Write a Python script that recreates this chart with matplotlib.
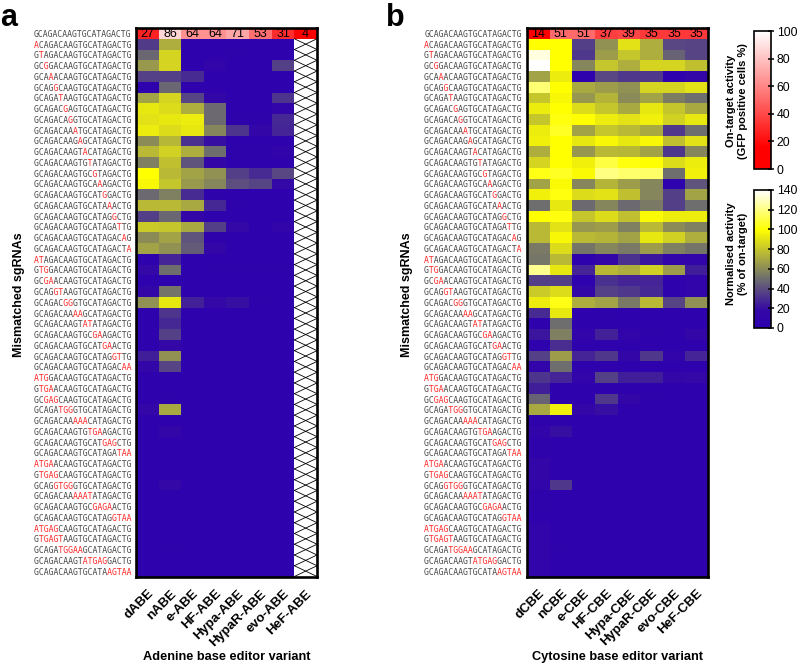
import numpy as np
import matplotlib
matplotlib.use("Agg")
import matplotlib.pyplot as plt
from matplotlib.colors import LinearSegmentedColormap, Normalize

# sgRNA sequences, first one is the on-target
reference = "GCAGACAAGTGCATAGACTG"
sgrnas = [
    "GCAGACAAGTGCATAGACTG", "ACAGACAAGTGCATAGACTG", "GTAGACAAGTGCATAGACTG", "GCGGACAAGTGCATAGACTG",
    "GCAAACAAGTGCATAGACTG", "GCAGGCAAGTGCATAGACTG", "GCAGATAAGTGCATAGACTG", "GCAGACGAGTGCATAGACTG",
    "GCAGACAGGTGCATAGACTG", "GCAGACAAATGCATAGACTG", "GCAGACAAGAGCATAGACTG", "GCAGACAAGTACATAGACTG",
    "GCAGACAAGTGTATAGACTG", "GCAGACAAGTGCGTAGACTG", "GCAGACAAGTGCAAAGACTG", "GCAGACAAGTGCATGGACTG",
    "GCAGACAAGTGCATAAACTG", "GCAGACAAGTGCATAGGCTG", "GCAGACAAGTGCATAGATTG", "GCAGACAAGTGCATAGACAG",
    "GCAGACAAGTGCATAGACTA", "ATAGACAAGTGCATAGACTG", "GTGGACAAGTGCATAGACTG", "GCGAACAAGTGCATAGACTG",
    "GCAGGTAAGTGCATAGACTG", "GCAGACGGGTGCATAGACTG", "GCAGACAAAAGCATAGACTG", "GCAGACAAGTATATAGACTG",
    "GCAGACAAGTGCGAAGACTG", "GCAGACAAGTGCATGAACTG", "GCAGACAAGTGCATAGGTTG", "GCAGACAAGTGCATAGACAA",
    "ATGGACAAGTGCATAGACTG", "GTGAACAAGTGCATAGACTG", "GCGAGCAAGTGCATAGACTG", "GCAGATGGGTGCATAGACTG",
    "GCAGACAAAAACATAGACTG", "GCAGACAAGTGTGAAGACTG", "GCAGACAAGTGCATGAGCTG", "GCAGACAAGTGCATAGATAA",
    "ATGAACAAGTGCATAGACTG", "GTGAGCAAGTGCATAGACTG", "GCAGGTGGGTGCATAGACTG", "GCAGACAAAAATATAGACTG",
    "GCAGACAAGTGCGAGAACTG", "GCAGACAAGTGCATAGGTAA", "ATGAGCAAGTGCATAGACTG", "GTGAGTAAGTGCATAGACTG",
    "GCAGATGGAAGCATAGACTG", "GCAGACAAGTATGAGGACTG", "GCAGACAAGTGCATAAGTAA",
]

abe_names = ["dABE", "nABE", "e-ABE", "HF-ABE", "Hypa-ABE", "HypaR-ABE", "evo-ABE", "HeF-ABE"]
cbe_names = ["dCBE", "nCBE", "e-CBE", "HF-CBE", "Hypa-CBE", "HypaR-CBE", "evo-CBE", "HeF-CBE"]
abe_on_target = [27, 86, 64, 64, 71, 53, 31, 4]
cbe_on_target = [14, 51, 51, 37, 39, 35, 35, 35]

# normalised activity, one row per mismatched sgRNA, HeF-ABE has no data
nan = np.nan
abe_activity = [
    [34, 72, 5, 5, 5, 5, 5, nan], [48, 85, 5, 5, 8, 5, 5, nan], [65, 85, 5, 12, 5, 5, 36, nan],
    [36, 35, 29, 5, 5, 5, 5, nan], [5, 48, 5, 5, 5, 5, 5, nan], [68, 85, 37, 15, 5, 5, 32, nan],
    [92, 88, 72, 49, 5, 5, 12, nan], [90, 92, 93, 49, 8, 8, 28, nan], [93, 88, 92, 58, 32, 15, 27, nan],
    [60, 75, 31, 20, 5, 5, 5, nan], [76, 84, 72, 50, 8, 8, 12, nan], [56, 78, 42, 15, 5, 5, 5, nan],
    [100, 76, 68, 62, 35, 29, 38, nan], [97, 80, 65, 58, 40, 37, 17, nan], [49, 56, 29, 8, 5, 5, 5, nan],
    [76, 76, 70, 28, 8, 5, 5, nan], [35, 48, 15, 5, 5, 5, 5, nan], [82, 80, 70, 35, 17, 5, 12, nan],
    [60, 68, 42, 8, 5, 5, 5, nan], [68, 62, 44, 15, 5, 5, 5, nan], [5, 27, 5, 5, 5, 5, 5, nan],
    [17, 50, 5, 8, 8, 8, 8, nan], [5, 5, 5, 5, 5, 5, 5, nan], [15, 52, 5, 5, 5, 5, 5, nan],
    [62, 92, 26, 17, 20, 8, 5, nan], [5, 32, 5, 5, 5, 5, 5, nan], [5, 28, 5, 5, 5, 5, 5, nan],
    [5, 36, 5, 5, 5, 5, 5, nan], [5, 17, 5, 5, 5, 5, 5, nan], [25, 62, 5, 5, 5, 5, 5, nan],
    [15, 37, 5, 5, 5, 5, 5, nan], [5, 5, 5, 5, 5, 5, 5, nan], [5, 5, 5, 5, 5, 5, 5, nan],
    [5, 8, 5, 5, 5, 5, 5, nan], [15, 70, 5, 5, 5, 5, 5, nan], [5, 5, 5, 5, 5, 5, 5, nan],
    [5, 15, 5, 5, 5, 5, 5, nan], [5, 5, 5, 5, 5, 5, 5, nan], [5, 5, 5, 5, 5, 5, 5, nan],
    [5, 5, 5, 5, 5, 5, 5, nan], [5, 5, 5, 5, 5, 5, 5, nan], [5, 17, 5, 5, 5, 5, 5, nan],
    [5, 5, 5, 5, 5, 5, 5, nan], [5, 5, 5, 5, 5, 5, 5, nan], [5, 5, 5, 5, 5, 5, 5, nan],
    [5, 5, 5, 5, 5, 5, 5, nan], [5, 5, 5, 5, 5, 5, 5, nan], [5, 8, 5, 5, 5, 5, 5, nan],
    [5, 5, 5, 5, 5, 5, 5, nan], [5, 5, 5, 5, 5, 5, 5, nan],
]
cbe_activity = [
    [100, 100, 35, 62, 90, 72, 38, 37], [135, 100, 33, 66, 80, 72, 47, 37], [140, 100, 58, 80, 72, 85, 85, 78],
    [68, 93, 5, 38, 33, 33, 5, 15], [118, 100, 70, 66, 62, 85, 85, 90], [80, 97, 64, 74, 60, 68, 55, 50],
    [93, 100, 88, 80, 70, 92, 80, 70], [80, 102, 100, 93, 90, 95, 84, 92], [94, 105, 68, 80, 76, 70, 33, 50],
    [95, 100, 92, 97, 92, 97, 78, 90], [72, 100, 64, 76, 75, 68, 32, 58], [85, 100, 95, 110, 102, 100, 88, 94],
    [103, 105, 98, 120, 117, 116, 50, 95], [68, 98, 58, 74, 66, 58, 5, 42], [95, 102, 88, 90, 78, 58, 35, 68],
    [50, 92, 49, 58, 49, 54, 35, 50], [100, 102, 80, 88, 78, 98, 94, 94], [76, 90, 64, 66, 56, 76, 60, 56],
    [76, 97, 76, 74, 68, 92, 84, 72], [54, 88, 52, 58, 54, 66, 56, 52], [53, 76, 5, 15, 31, 22, 12, 12],
    [122, 92, 27, 76, 72, 84, 66, 25], [35, 35, 5, 31, 27, 27, 5, 12], [82, 88, 15, 36, 33, 28, 5, 12],
    [93, 103, 72, 68, 54, 76, 37, 62], [29, 92, 5, 8, 5, 5, 5, 5], [5, 50, 5, 5, 5, 5, 5, 5],
    [22, 56, 12, 26, 12, 8, 5, 15], [5, 30, 5, 5, 5, 5, 5, 5], [36, 66, 27, 33, 15, 33, 12, 27],
    [12, 50, 5, 5, 5, 5, 5, 5], [32, 27, 12, 36, 25, 25, 15, 17], [25, 5, 5, 5, 5, 5, 5, 5],
    [47, 5, 5, 33, 15, 8, 5, 5], [70, 95, 15, 20, 5, 5, 5, 5], [8, 8, 5, 5, 5, 5, 5, 5],
    [12, 20, 5, 5, 5, 5, 5, 5], [8, 5, 5, 5, 5, 5, 5, 5], [8, 5, 5, 5, 5, 5, 5, 5],
    [15, 5, 5, 5, 5, 5, 5, 5], [15, 5, 5, 5, 5, 5, 5, 5], [12, 33, 5, 5, 5, 5, 5, 5],
    [8, 5, 5, 5, 5, 5, 5, 5], [8, 5, 5, 5, 5, 5, 5, 5], [5, 5, 5, 5, 5, 5, 5, 5],
    [12, 5, 5, 5, 5, 5, 5, 5], [12, 5, 5, 5, 5, 5, 5, 5], [12, 8, 5, 5, 5, 5, 5, 5],
    [12, 5, 5, 5, 5, 5, 5, 5], [12, 5, 5, 5, 5, 5, 5, 5],
]

plt.rcParams['font.family'] = ['Liberation Sans', 'DejaVu Sans']

red_white = LinearSegmentedColormap.from_list(
    "on_target", [(0, "#ff0000"), (0.16, "#ff0000"), (1, "#ffffff")])
blue_yellow = LinearSegmentedColormap.from_list(
    "normalised", [(0, "#2c00b0"), (18 / 140, "#3408a5"), (50 / 140, "#6e6e6e"),
                   (100 / 140, "#ffff00"), (1, "#ffffff")])
on_norm = Normalize(0, 100)
off_norm = Normalize(0, 140)

W, H = 798, 665
fig = plt.figure(figsize=(W / 100, H / 100), dpi=100)


def px_axes(x0, y0, x1, y1):
    # axes from pixel box, y measured from the top
    return fig.add_axes([x0 / W, 1 - y1 / H, (x1 - x0) / W, (y1 - y0) / H])


def heatmap(box, names, on_target, activity, xlabel, xlabel_x, ylabel_x, letter, letter_x):
    ax = px_axes(*box)
    n_rows = len(activity) + 1
    n_cols = len(names)
    ax.pcolormesh(np.arange(n_cols + 1), [0, 1], [on_target], cmap=red_white, norm=on_norm)
    off = np.array(activity, dtype=float)
    ax.pcolormesh(np.arange(n_cols + 1), np.arange(1, n_rows + 1), np.ma.masked_invalid(off),
                  cmap=blue_yellow, norm=off_norm)
    ax.set_xlim(0, n_cols)
    ax.set_ylim(n_rows, 0)

    # crossed out cells where there is no data
    for r, c in zip(*np.where(np.isnan(off))):
        ax.plot([c, c + 1], [r + 1, r + 2], color="black", lw=0.6)
        ax.plot([c, c + 1], [r + 2, r + 1], color="black", lw=0.6)

    for c, val in enumerate(on_target):
        ax.text(c + 0.5, 0.55, str(val), ha="center", va="center", fontsize=9, color="black")

    # sequence labels, grey string with the red mismatches overlaid as a second string
    for r, seq in enumerate(sgrnas):
        grey = "".join(b if b == reference[i] else " " for i, b in enumerate(seq))
        red = "".join(b if b != reference[i] else " " for i, b in enumerate(seq))
        for txt, col in ((grey, "#484848"), (red, "#ff2a2a")):
            ax.annotate(txt, xy=(0, r + 0.5), xycoords=ax.get_yaxis_transform(),
                        xytext=(-102.5 * 0.72, 0), textcoords="offset points",
                        ha="left", va="center_baseline", fontsize=5.9, color=col,
                        family="DejaVu Sans Mono")

    ax.set_yticks([])
    ax.set_xticks(np.arange(n_cols) + 0.5)
    ax.set_xticklabels(names, rotation=45, ha="right", rotation_mode="anchor",
                       fontsize=9.5, fontweight="bold")
    ax.tick_params(axis="x", length=0, pad=8)
    for s in ax.spines.values():
        s.set_linewidth(1.9)
        s.set_zorder(5)

    fig.text(xlabel_x / W, 1 - 657 / H, xlabel, ha="center", va="center",
             fontsize=9.2, fontweight="bold")
    fig.text(ylabel_x / W, 1 - 295 / H, "Mismatched sgRNAs", rotation=90, ha="center", va="center",
             fontsize=9, fontweight="bold")
    fig.text(letter_x / W, 1 - 25.5 / H, letter, ha="left", va="baseline",
             fontsize=22, fontweight="bold")
    return ax


heatmap((136, 28, 317, 576.5), abe_names, abe_on_target, abe_activity,
        "Adenine base editor variant", 226.5, 19, "a", 0)
heatmap((527, 28, 708, 576.5), cbe_names, cbe_on_target, cbe_activity,
        "Cytosine base editor variant", 617.5, 407, "b", 386)


def colorbar(box, cmap, norm, ticks, label, label_x, label_y):
    cax = px_axes(*box)
    sm = plt.cm.ScalarMappable(norm=norm, cmap=cmap)
    cb = fig.colorbar(sm, cax=cax, ticks=ticks)
    cb.outline.set_linewidth(1.2)
    cb.ax.tick_params(direction="inout", length=5, width=1.1, labelsize=8.8, pad=2)
    fig.text(label_x / W, 1 - label_y / H, label, rotation=90, ha="center", va="center",
             fontsize=8, fontweight="bold", linespacing=1.15)


colorbar((753.5, 31, 770.5, 169), red_white, on_norm, [0, 20, 40, 60, 80, 100],
         "On-target activity\n(GFP positive cells %)", 737, 101)
colorbar((753.5, 190, 770.5, 328), blue_yellow, off_norm, [0, 20, 40, 60, 80, 100, 120, 140],
         "Normalised activity\n(% of on-target)", 737, 254)

fig.savefig("out.png", dpi=100)
